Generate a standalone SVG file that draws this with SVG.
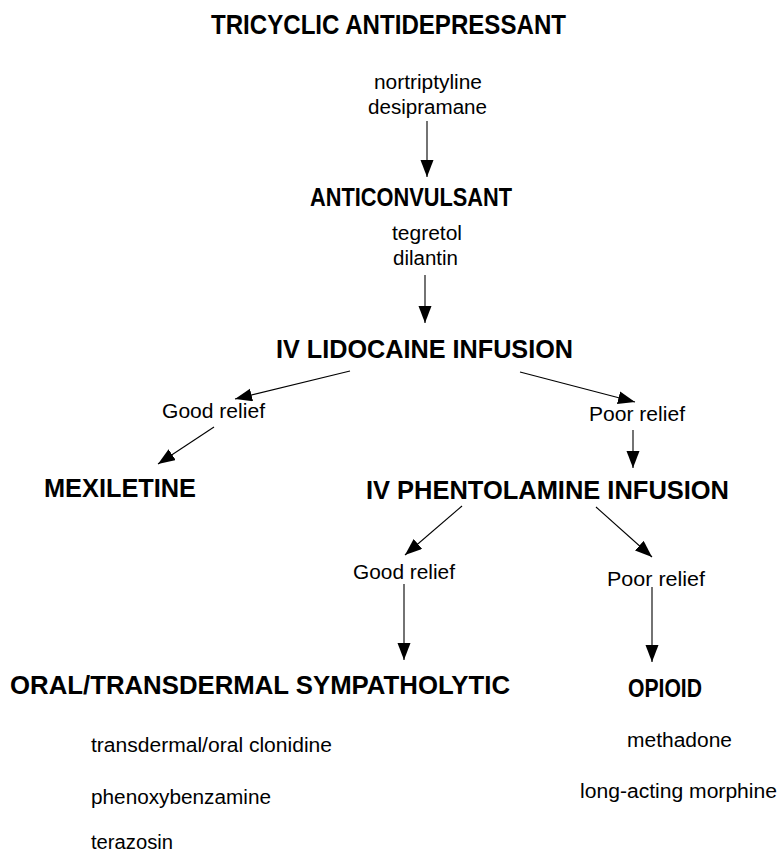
<svg xmlns="http://www.w3.org/2000/svg" width="779" height="857" viewBox="0 0 779 857">
  <defs>
    <style>
      text { font-family: "Liberation Sans", Arial, sans-serif; fill: #000; }
      .head { font-weight: bold; font-size: 25px; }
      .title { font-weight: bold; font-size: 28px; }
      .sub { font-size: 20px; }
      .edge { stroke: #000; stroke-width: 1.1; fill: none; marker-end: url(#arrow); }
    </style>
    <marker id="arrow" markerUnits="userSpaceOnUse" markerWidth="18" markerHeight="14" refX="17" refY="6.5" orient="auto">
      <path d="M0,0 L17,6.5 L0,13 Z" fill="#000"/>
    </marker>
  </defs>
  <rect width="779" height="857" fill="#fff"/>

  <g id="tricyclic">
    <text class="title" x="211" y="34" textLength="355" lengthAdjust="spacingAndGlyphs">TRICYCLIC ANTIDEPRESSANT</text>
    <text class="sub" x="374" y="89" textLength="108" lengthAdjust="spacingAndGlyphs">nortriptyline</text>
    <text class="sub" x="368" y="114" textLength="119" lengthAdjust="spacingAndGlyphs">desipramane</text>
  </g>

  <g id="anticonvulsant">
    <text class="head" x="310" y="206" textLength="202" lengthAdjust="spacingAndGlyphs">ANTICONVULSANT</text>
    <text class="sub" x="392" y="240" textLength="70" lengthAdjust="spacingAndGlyphs">tegretol</text>
    <text class="sub" x="393" y="265" textLength="65" lengthAdjust="spacingAndGlyphs">dilantin</text>
  </g>

  <g id="lidocaine">
    <text class="head" x="276" y="358" textLength="297" lengthAdjust="spacingAndGlyphs">IV LIDOCAINE INFUSION</text>
  </g>

  <g id="lidocaine-good">
    <text class="sub" x="162" y="418" textLength="103" lengthAdjust="spacingAndGlyphs">Good relief</text>
  </g>

  <g id="lidocaine-poor">
    <text class="sub" x="589" y="421" textLength="96" lengthAdjust="spacingAndGlyphs">Poor relief</text>
  </g>

  <g id="mexiletine">
    <text class="head" x="44" y="497" textLength="152" lengthAdjust="spacingAndGlyphs">MEXILETINE</text>
  </g>

  <g id="phentolamine">
    <text class="head" x="366" y="499" textLength="363" lengthAdjust="spacingAndGlyphs">IV PHENTOLAMINE INFUSION</text>
  </g>

  <g id="phentolamine-good">
    <text class="sub" x="353" y="579" textLength="102" lengthAdjust="spacingAndGlyphs">Good relief</text>
  </g>

  <g id="phentolamine-poor">
    <text class="sub" x="607" y="586" textLength="98" lengthAdjust="spacingAndGlyphs">Poor relief</text>
  </g>

  <g id="sympatholytic">
    <text class="head" x="10" y="694" textLength="500" lengthAdjust="spacingAndGlyphs">ORAL/TRANSDERMAL SYMPATHOLYTIC</text>
    <text class="sub" x="91" y="752" textLength="241" lengthAdjust="spacingAndGlyphs">transdermal/oral clonidine</text>
    <text class="sub" x="91" y="804" textLength="180" lengthAdjust="spacingAndGlyphs">phenoxybenzamine</text>
    <text class="sub" x="91" y="849" textLength="82" lengthAdjust="spacingAndGlyphs">terazosin</text>
  </g>

  <g id="opioid">
    <text class="head" x="628" y="697" textLength="74" lengthAdjust="spacingAndGlyphs">OPIOID</text>
    <text class="sub" x="627" y="747" textLength="105" lengthAdjust="spacingAndGlyphs">methadone</text>
    <text class="sub" x="580" y="798" textLength="197" lengthAdjust="spacingAndGlyphs">long-acting morphine</text>
  </g>

  <g id="connectors">
    <line class="edge" x1="427" y1="121" x2="427" y2="177"/>
    <line class="edge" x1="425" y1="275" x2="425" y2="323"/>
    <line class="edge" x1="350" y1="371" x2="235" y2="399"/>
    <line class="edge" x1="520" y1="372" x2="635" y2="402"/>
    <line class="edge" x1="214" y1="427" x2="158" y2="464"/>
    <line class="edge" x1="633" y1="430" x2="633" y2="468"/>
    <line class="edge" x1="462" y1="506" x2="405" y2="555"/>
    <line class="edge" x1="596" y1="507" x2="652" y2="557"/>
    <line class="edge" x1="404" y1="584" x2="404" y2="660"/>
    <line class="edge" x1="652" y1="587" x2="652" y2="662"/>
  </g>
</svg>
